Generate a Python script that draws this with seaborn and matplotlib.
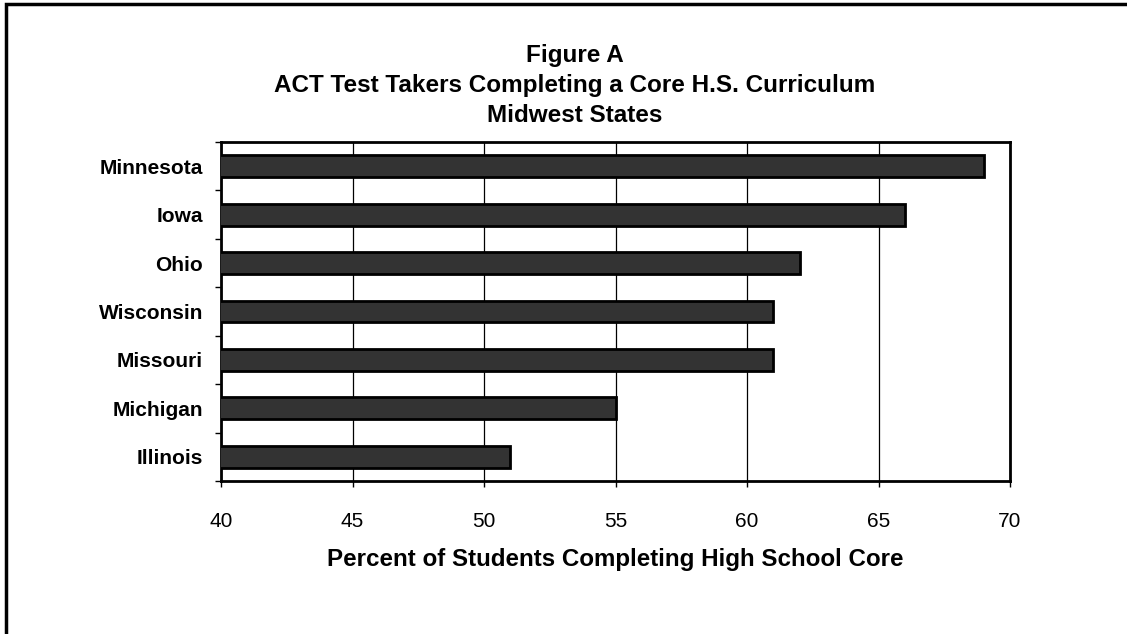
import matplotlib
matplotlib.use('Agg')
import pandas as pd
import seaborn as sns
import matplotlib.pyplot as plt
from matplotlib.patches import Rectangle

states = ['Minnesota', 'Iowa', 'Ohio', 'Wisconsin', 'Missouri', 'Michigan', 'Illinois']
percent_core = [69, 66, 62, 61, 61, 55, 51]
x_ticks = [40, 45, 50, 55, 60, 65, 70]

df = pd.DataFrame({'State': states, 'Percent': percent_core})

sns.set_style('white')
plt.rcParams['font.family'] = ['Liberation Sans', 'DejaVu Sans']
plt.rcParams['text.color'] = 'black'
plt.rcParams['xtick.color'] = 'black'
plt.rcParams['ytick.color'] = 'black'
plt.rcParams['axes.labelcolor'] = 'black'

fig = plt.figure(figsize=(11.27, 6.34), dpi=100)
ax = fig.add_axes([0.1961, 0.2413, 0.7001, 0.5347])

# outer frame (only left/top visible in the original)
fig.patches.append(Rectangle((6 / 1127, -0.05), 1.2, 1 - 4 / 634 + 0.05,
                             transform=fig.transFigure, fill=False,
                             edgecolor='black', linewidth=2.5, zorder=0))

sns.barplot(data=df, x='Percent', y='State', order=states, color='#333333',
            edgecolor='black', linewidth=2, width=0.45, saturation=1, ax=ax,
            zorder=3)

ax.set_xlim(40, 70)
ax.set_ylim(6.5, -0.5)
ax.set_xticks(x_ticks)
ax.grid(axis='x', color='black', linewidth=0.9, zorder=1)
ax.set_axisbelow(True)

for s in ax.spines.values():
    s.set_visible(True)
    s.set_color('black')
    s.set_linewidth(2)

ax.tick_params(axis='x', direction='out', length=4.5, width=1,
               labelsize=15, pad=18, bottom=True)
ax.tick_params(axis='y', which='major', length=0, labelsize=15, pad=13)
ax.set_yticks([i - 0.5 for i in range(8)], minor=True)
ax.tick_params(axis='y', which='minor', direction='out', length=4.5, width=1,
               left=True)
for lbl in ax.get_yticklabels():
    lbl.set_fontweight('bold')

ax.set_ylabel('')
ax.set_xlabel('Percent of Students Completing High School Core',
              fontsize=17.4, fontweight='bold', labelpad=12)

ax.text(54.0, 3.02, 'ss', fontsize=7, color='#333333', ha='center', va='center',
        zorder=5)

title_lines = ['Figure A', 'ACT Test Takers Completing a Core H.S. Curriculum',
               'Midwest States']
for line, base in zip(title_lines, [62, 92, 122]):
    fig.text(575 / 1127, 1 - base / 634, line, ha='center', va='baseline',
             fontsize=17.5, fontweight='bold')

fig.savefig('out.png', dpi=100)
